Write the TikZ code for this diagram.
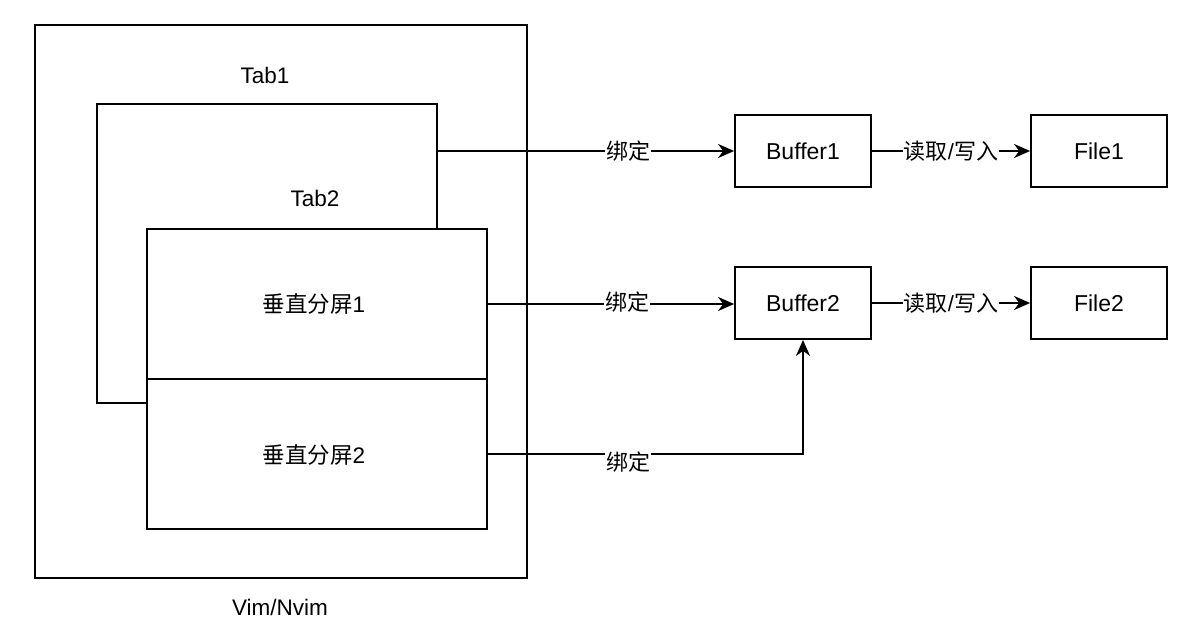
\documentclass[tikz,border=0pt]{standalone}
\usepackage{fontspec}
\setmainfont{Liberation Sans}
\newfontfamily\cjk{Noto Sans CJK SC}
\usetikzlibrary{arrows.meta}
\begin{document}
\begin{tikzpicture}[x=1pt,y=-1pt,
  box/.style={draw=black,line width=1.8pt,fill=white},
  lbl/.style={font=\fontsize{22.5}{26}\selectfont,inner sep=0pt},
  elbl/.style={font=\fontsize{22}{26}\selectfont,fill=white,inner sep=1pt},
  conn/.style={line width=1.8pt,-{Stealth[length=16pt,width=14pt,inset=5pt]}},
  blk/.style={box,minimum width=136pt,minimum height=72pt,font=\fontsize{23}{26}\selectfont}]
\useasboundingbox (0,0) rectangle (1204,636);
% outer Vim box
\draw[box] (35,25) rectangle (527,578);
\node[lbl] (vimlbl) at (280,607) {Vim/Nvim};
% Tab1
\draw[box] (97,104) rectangle (437,403);
\coordinate (tab1r) at (437,151);
\node[lbl] (tab1lbl) at (265,75) {Tab1};
\node[lbl] (tab2lbl) at (315,198) {Tab2};
% splits
\draw[box] (147,229) rectangle (487,379);
\draw[box] (147,379) rectangle (487,529);
\node[lbl] (s1) at (314,304) {{\cjk 垂直分屏}1};
\node[lbl] (s2) at (314,455) {{\cjk 垂直分屏}2};
\coordinate (s1r) at (487,304);
\coordinate (s2r) at (487,454);
% buffers and files
\node[blk] (b1) at (803,151) {Buffer1};
\node[blk] (b2) at (803,303) {Buffer2};
\node[blk] (f1) at (1099,151) {File1};
\node[blk] (f2) at (1099,303) {File2};
% connectors
\draw[conn] (tab1r) -- (b1.west |- tab1r);
\node[elbl] at (628,151) {\cjk 绑定};
\draw[conn] (s1r) -- (b2.west |- s1r);
\node[elbl] at (627,302) {\cjk 绑定};
\draw[conn] (s2r) -- (b2.south |- s2r) -- (b2.south);
\node[elbl] at (628,462) {\cjk 绑定};
\draw[conn] (b1) -- (f1);
\node[elbl] at (951,151) {{\cjk 读取}/{\cjk 写入}};
\draw[conn] (b2) -- (f2);
\node[elbl] at (951,303) {{\cjk 读取}/{\cjk 写入}};
\end{tikzpicture}
\end{document}
